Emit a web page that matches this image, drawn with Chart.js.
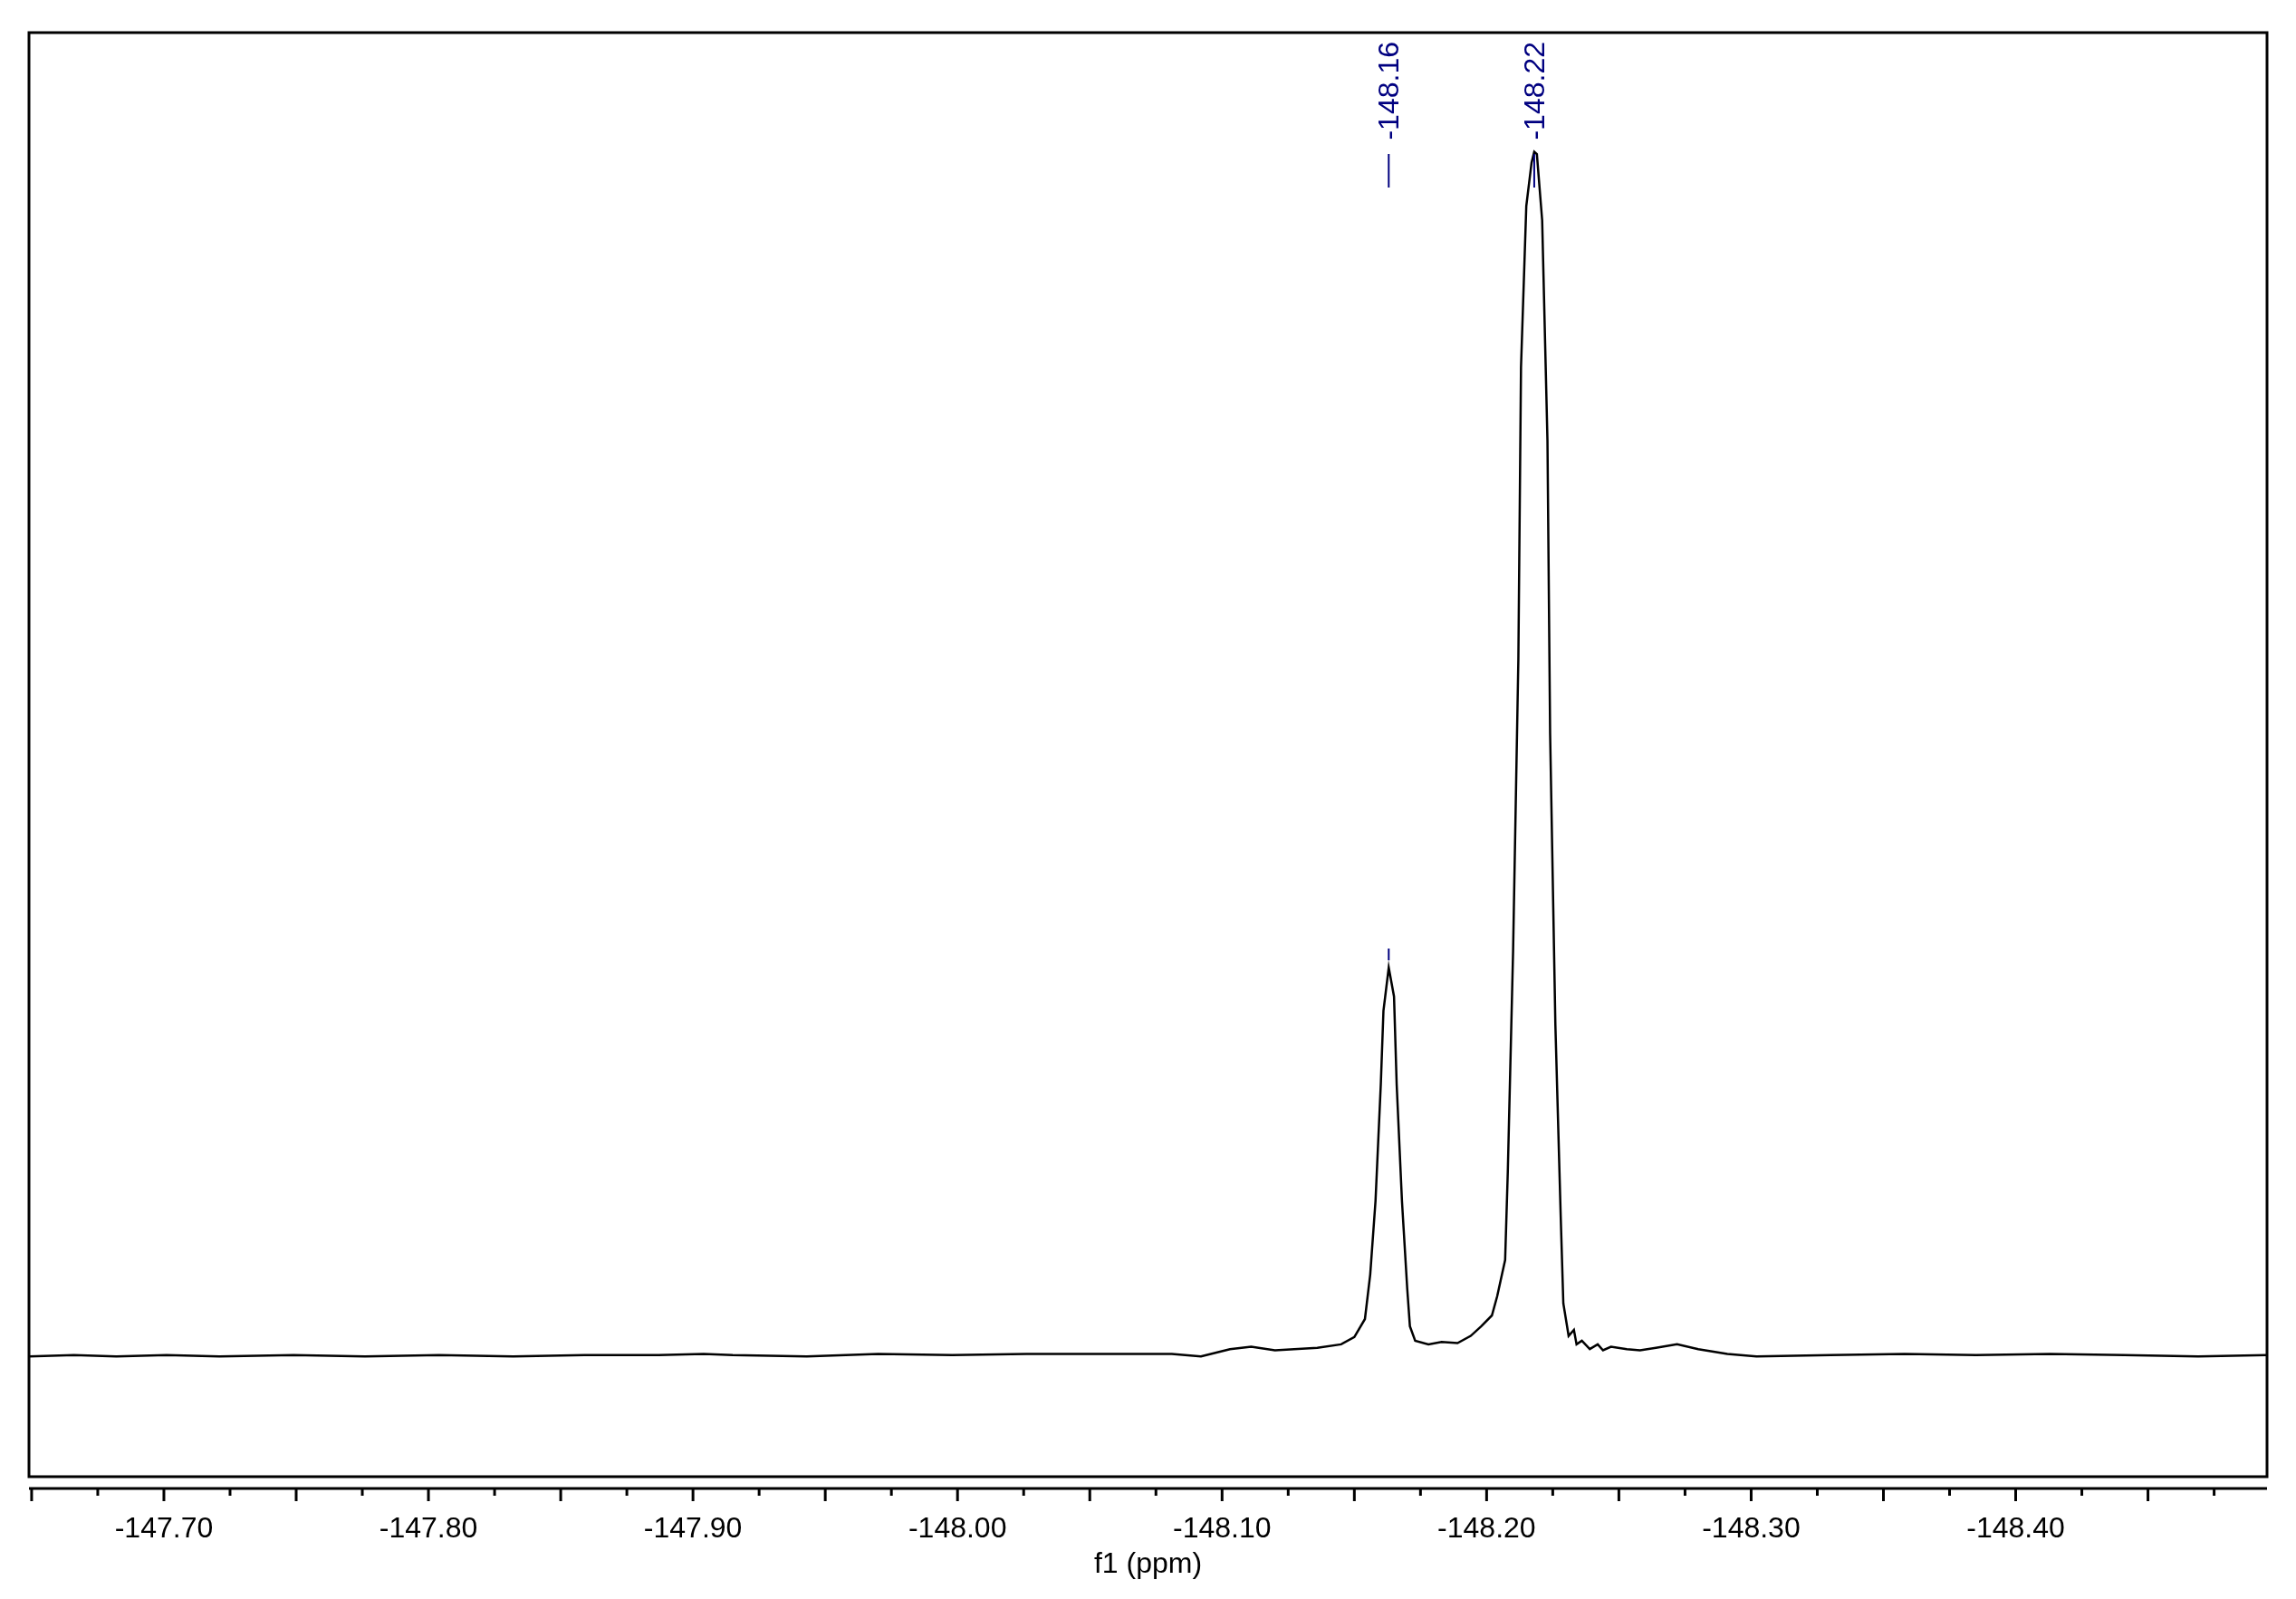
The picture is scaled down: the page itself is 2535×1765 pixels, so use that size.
<!DOCTYPE html>
<html><head><meta charset="utf-8">
<script src="https://cdn.jsdelivr.net/npm/chart.js@4"></script>
<style>html,body{margin:0;padding:0;background:#fff}#c{display:block}</style>
</head><body>
<canvas id="c" width="2535" height="1765"></canvas>
<script>
const ppm = [-147.649,-147.666,-147.682,-147.701,-147.721,-147.749,-147.776,-147.804,-147.832,-147.859,-147.887,-147.904,-147.915,-147.943,-147.970,-147.998,-148.026,-148.053,-148.081,-148.092,-148.103,-148.111,-148.120,-148.136,-148.145,-148.150,-148.154,-148.156,-148.158,-148.160,-148.161,-148.163,-148.165,-148.166,-148.168,-148.170,-148.171,-148.173,-148.178,-148.183,-148.189,-148.194,-148.198,-148.202,-148.204,-148.207,-148.208,-148.210,-148.212,-148.213,-148.215,-148.217,-148.218,-148.219,-148.221,-148.223,-148.224,-148.226,-148.228,-148.229,-148.231,-148.233,-148.234,-148.236,-148.239,-148.242,-148.244,-148.247,-148.253,-148.258,-148.264,-148.272,-148.280,-148.291,-148.302,-148.330,-148.358,-148.385,-148.413,-148.441,-148.469,-148.495];
const intensity = [-0.1,0,-0.1,0,-0.1,0,-0.1,0,-0.1,0,0,0.1,0,-0.1,0.1,0,0.1,0.1,0.1,-0.1,0.5,0.7,0.4,0.6,0.9,1.5,3.0,6.7,12.8,22.5,28.6,32.2,29.8,22.5,12.8,5.5,2.4,1.2,0.9,1.1,1.0,1.6,2.4,3.3,4.9,7.9,15.2,33.5,57.8,82.1,95.5,99.1,100,99.8,94.3,76.0,51.7,27.4,11.6,4.3,1.6,2.1,0.9,1.2,0.5,0.9,0.4,0.7,0.5,0.4,0.6,0.9,0.5,0.1,-0.1,0,0.1,0,0.1,0,-0.1,0];
const peakPos = [-148.163,-148.218];
const peakLabels = ['-148.16','-148.22'];
const tickValues = [-147.65,-147.675,-147.70,-147.725,-147.75,-147.775,-147.80,-147.825,-147.85,-147.875,-147.90,-147.925,-147.95,-147.975,-148.00,-148.025,-148.05,-148.075,-148.10,-148.125,-148.15,-148.175,-148.20,-148.225,-148.25,-148.275,-148.30,-148.325,-148.35,-148.375,-148.40,-148.425,-148.45,-148.475];
const labelValues = [-147.7,-147.8,-147.9,-148.0,-148.1,-148.2,-148.3,-148.4];
const axisTitle = 'f1 (ppm)';
const xMin = -148.495, xMax = -147.649, boxBottom = -10.1, yMin = -11.08, yMax = 109.9;
const FONT = '"Liberation Sans", Arial, sans-serif';

const deco = {
  id:'deco',
  afterDraw(chart){
    const {ctx, chartArea:a, scales:{x,y}} = chart;
    ctx.save();
    ctx.strokeStyle='#000'; ctx.lineWidth=3;
    const bb = y.getPixelForValue(boxBottom);
    ctx.strokeRect(a.left, a.top, a.right-a.left, bb-a.top);
    const ay = a.bottom;
    ctx.beginPath(); ctx.moveTo(a.left, ay); ctx.lineTo(a.right, ay); ctx.stroke();
    tickValues.forEach(v=>{
      const px = x.getPixelForValue(v);
      const major = Math.abs(Math.round(v*20)-v*20)<1e-6;
      ctx.beginPath(); ctx.moveTo(px, ay); ctx.lineTo(px, ay+(major?14:8)); ctx.stroke();
    });
    ctx.fillStyle='#000'; ctx.font='32px '+FONT; ctx.textAlign='center'; ctx.textBaseline='middle';
    labelValues.forEach(v=>ctx.fillText(v.toFixed(2), x.getPixelForValue(v), ay+45));
    ctx.fillText(axisTitle, (a.left+a.right)/2, ay+84);
    ctx.fillStyle='#000080'; ctx.strokeStyle='#000080'; ctx.lineWidth=2;
    peakPos.forEach((p,i)=>{
      const px = x.getPixelForValue(p);
      ctx.save(); ctx.translate(px+11, 46); ctx.rotate(-Math.PI/2);
      ctx.textAlign='right'; ctx.textBaseline='alphabetic';
      ctx.fillText(peakLabels[i], 0, 0); ctx.restore();
      ctx.beginPath(); ctx.moveTo(px, 170); ctx.lineTo(px, 207); ctx.stroke();
    });
    const sp = x.getPixelForValue(peakPos[0]);
    ctx.beginPath(); ctx.moveTo(sp, 1047); ctx.lineTo(sp, 1060); ctx.stroke();
    ctx.restore();
  }
};

new Chart(document.getElementById('c'), {
  type:'line',
  data:{datasets:[{data: ppm.map((v,i)=>({x:v,y:intensity[i]})), borderColor:'#000', borderWidth:2.5, pointRadius:0, tension:0, fill:false}]},
  options:{
    responsive:false, animation:false,
    layout:{padding:{left:32,right:32,top:36,bottom:122}},
    plugins:{legend:{display:false},tooltip:{enabled:false}},
    scales:{
      x:{type:'linear', display:false, reverse:true, min:xMin, max:xMax},
      y:{display:false, min:yMin, max:yMax}
    }
  },
  plugins:[deco]
});
</script>
</body></html>
